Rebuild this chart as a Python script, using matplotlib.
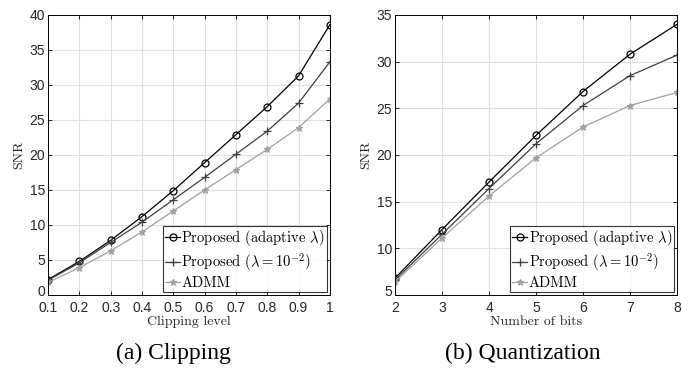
import numpy as np
import matplotlib
matplotlib.use("Agg")
import matplotlib.pyplot as plt
import matplotlib.transforms as mtransforms

plt.rcParams['mathtext.fontset'] = 'cm'
plt.rcParams['axes.formatter.use_mathtext'] = False

# (a) clipping
clip_level = [0.1, 0.2, 0.3, 0.4, 0.5, 0.6, 0.7, 0.8, 0.9, 1.0]
clip_adaptive = [2.2, 4.8, 7.8, 11.2, 14.9, 18.9, 22.9, 26.9, 31.3, 38.6]
clip_fixed = [2.1, 4.6, 7.5, 10.4, 13.6, 16.8, 20.1, 23.4, 27.4, 33.3]
clip_admm = [1.8, 3.9, 6.3, 9.0, 12.0, 15.0, 17.9, 20.8, 23.9, 28.0]

# (b) quantization
n_bits = [2, 3, 4, 5, 6, 7, 8]
quant_adaptive = [6.8, 12.0, 17.1, 22.1, 26.8, 30.8, 34.0]
quant_fixed = [6.6, 11.5, 16.4, 21.2, 25.3, 28.5, 30.7]
quant_admm = [6.4, 11.1, 15.6, 19.7, 23.0, 25.3, 26.7]

labels = [r'Proposed (adaptive $\lambda$)',
          r'Proposed ($\lambda = 10^{-2}$)',
          'ADMM']

tick_font = 'Liberation Sans'
label_font = 'cmr10'


def draw(ax, x, ys, xlabel, xlim, ylim, xticks, yticks):
    styles = [('o', 'black', 5, 'none'),
              ('+', '#404040', 6, '#404040'),
              ('*', '#a0a0a0', 5, '#a0a0a0')]
    for y, lab, (m, c, ms, mfc) in zip(ys, labels, styles):
        ax.plot(x, y, color=c, marker=m, markersize=ms, markerfacecolor=mfc,
                markeredgecolor=c, linewidth=0.9, markeredgewidth=0.9, label=lab)
    ax.set_xlim(xlim)
    ax.set_ylim(ylim)
    ax.set_xticks(xticks)
    ax.set_yticks(yticks)
    ax.grid(True, color='#e0e0e0', linewidth=0.8)
    ax.set_axisbelow(True)
    ax.tick_params(direction='in', top=True, right=True, length=3, width=0.6,
                   labelsize=10, labelcolor='#262626')
    ax.tick_params(axis='x', pad=4)
    ax.tick_params(axis='y', pad=2)
    for s in ax.spines.values():
        s.set_linewidth(0.7)
    ax.set_xlabel(xlabel, fontsize=10, family=label_font, color='#262626', labelpad=1)
    ax.set_ylabel('SNR', fontsize=10, family=label_font, color='#262626', labelpad=3)
    leg = ax.legend(loc='lower right', prop={'family': label_font, 'size': 10.5},
                    frameon=True, fancybox=False, edgecolor='black',
                    borderpad=0.15, labelspacing=0.2, handlelength=1.0,
                    handletextpad=0.1, borderaxespad=0.2)
    leg.get_frame().set_linewidth(0.8)


def fix_ticklabels(ax, fig):
    for t in ax.get_xticklabels() + ax.get_yticklabels():
        t.set_family(tick_font)
    # lift the bottom y label a bit so it clears the first x label
    first = ax.get_yticklabels()[0]
    first.set_transform(first.get_transform() +
                        mtransforms.ScaledTranslation(0, 3 / 72, fig.dpi_scale_trans))


fig = plt.figure(figsize=(6.89, 3.71), dpi=100)
ax1 = fig.add_axes([0.0697, 0.2049, 0.409, 0.7547])
ax2 = fig.add_axes([0.5733, 0.2049, 0.4093, 0.7547])

draw(ax1, clip_level, [clip_adaptive, clip_fixed, clip_admm], 'Clipping level',
     (0.1, 1.0), (0, 40), [0.1, 0.2, 0.3, 0.4, 0.5, 0.6, 0.7, 0.8, 0.9, 1.0],
     range(0, 41, 5))
ax1.set_xticklabels(['0.1', '0.2', '0.3', '0.4', '0.5', '0.6', '0.7', '0.8', '0.9', '1'])
draw(ax2, n_bits, [quant_adaptive, quant_fixed, quant_admm], 'Number of bits',
     (2, 8), (5, 35), n_bits, range(5, 36, 5))
fix_ticklabels(ax1, fig)
fix_ticklabels(ax2, fig)

fig.text(0.251, 0.048, '(a) Clipping', fontsize=17, family='Liberation Serif',
         ha='center', va='center')
fig.text(0.758, 0.048, '(b) Quantization', fontsize=17, family='Liberation Serif',
         ha='center', va='center')

fig.savefig('out.png', dpi=100)
